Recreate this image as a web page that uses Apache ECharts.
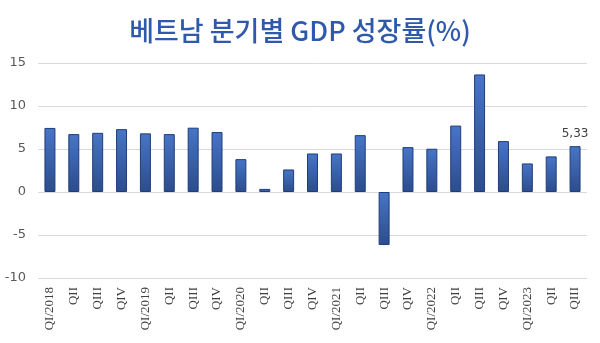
<!DOCTYPE html>
<html><head><meta charset="utf-8">
<script src="https://cdn.jsdelivr.net/npm/echarts@6/dist/echarts.min.js"></script>
<style>html,body{margin:0;padding:0;background:#fff}#c{width:600px;height:343px}</style>
</head><body><div id="c"></div>
<script>
const categories = ['QI/2018','QII','QIII','QIV','QI/2019','QII','QIII','QIV','QI/2020','QII','QIII','QIV','QI/2021','QII','QIII','QIV','QI/2022','QII','QIII','QIV','QI/2023','QII','QIII'];
const growth = [7.45,6.73,6.88,7.31,6.82,6.73,7.48,6.97,3.82,0.36,2.62,4.48,4.48,6.61,-6.17,5.22,5.03,7.72,13.67,5.92,3.32,4.14,5.33];
const yTicks = {min:-10, max:15, interval:5};
const titleText = '베트남 분기별 GDP 성장률(%)';

const chart = echarts.init(document.getElementById('c'));
chart.setOption({
  animation:false,
  backgroundColor:'#fff',
  title:{text:titleText,left:'center',top:12,textStyle:{fontFamily:'Noto Sans CJK KR',fontWeight:500,fontSize:27,color:'#2f5aab'}},
  grid:{left:38,right:13,top:63,bottom:65,containLabel:false},
  xAxis:{type:'category',data:categories,
    axisLine:{show:false},axisTick:{show:false},
    axisLabel:{rotate:90,interval:0,fontFamily:'Liberation Serif',fontSize:13,color:'#404040',margin:9}},
  yAxis:{type:'value',min:yTicks.min,max:yTicks.max,interval:yTicks.interval,
    axisLine:{show:false},axisTick:{show:false},
    splitLine:{lineStyle:{color:'#d9d9d9',width:1}},
    axisLabel:{fontFamily:'DejaVu Sans',fontSize:13,color:'#595959',margin:12}},
  series:[{type:'bar',data:growth.map((v,i)=>i===growth.length-1?{value:v,label:{show:true,position:'top',formatter:()=>String(v).replace('.',','),fontFamily:'DejaVu Sans',fontSize:12,color:'#404040',distance:6}}:v),
    barWidth:'46%',
    itemStyle:{borderColor:'#1f3d7a',borderWidth:1,
      color:new echarts.graphic.LinearGradient(0,0,0,1,[{offset:0,color:'#4775c7'},{offset:1,color:'#2c4c8c'}])}}]
});
</script></body></html>
